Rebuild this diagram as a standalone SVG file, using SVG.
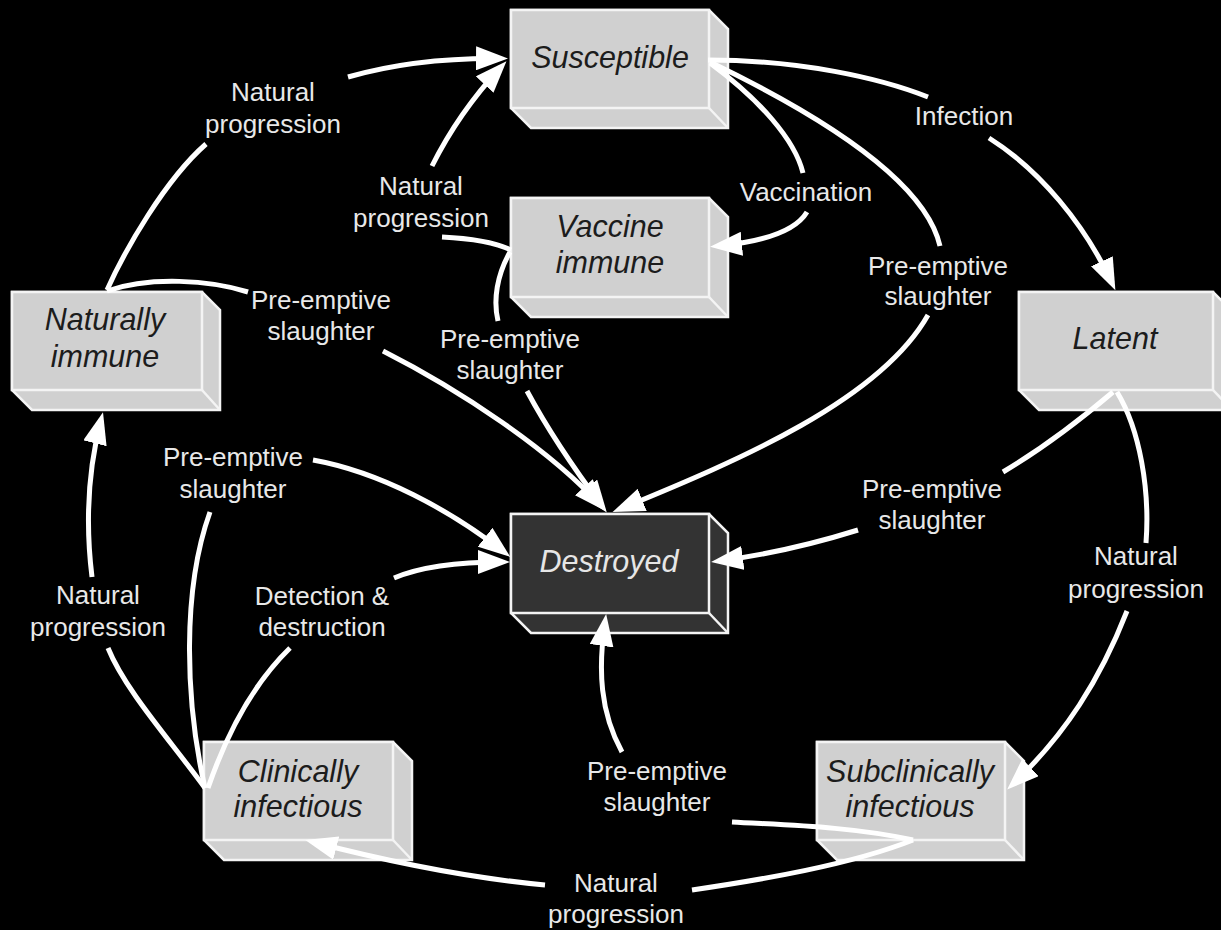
<svg xmlns="http://www.w3.org/2000/svg" width="1221" height="930" viewBox="0 0 1221 930">
<style>
.box{fill:#d0d0d0;stroke:#f4f4f4;stroke-width:2.5;stroke-linejoin:miter}
.dark{fill:#333333;stroke:#f4f4f4;stroke-width:2.5}
.edge{stroke:#f4f4f4;stroke-width:2.5}
.nt{font-family:"Liberation Sans",Arial,sans-serif;font-style:italic;font-size:30.5px;fill:#1c1c1c;text-anchor:middle}
.ntd{fill:#e6e6e6}
.lb{font-family:"Liberation Sans",Arial,sans-serif;font-size:26px;fill:#e8e8e8;text-anchor:middle}
.cn{fill:none;stroke:#ffffff;stroke-width:5;marker-end:url(#ah)}
</style>
<defs>
<marker id="ah" viewBox="0 0 32 24" markerWidth="32" markerHeight="24" refX="24" refY="12" orient="auto" markerUnits="userSpaceOnUse">
<path d="M0,0 L32,12 L0,24 Z" fill="#ffffff"/>
</marker>
</defs>
<rect x="0" y="0" width="1221" height="930" fill="#000000"/>

<g id="susceptible">
<path class="box" d="M511,10 L709,10 L728,29 L728,128 L531,128 L511,108 Z"/>
<rect class="box" x="511" y="10" width="198" height="98"/>
<line class="edge" x1="709" y1="108" x2="728" y2="128"/>
<text class="nt" x="610" y="68">Susceptible</text>
</g>

<g id="vaccine-immune">
<path class="box" d="M511,198 L709,198 L728,217 L728,317 L531,317 L511,297 Z"/>
<rect class="box" x="511" y="198" width="198" height="99"/>
<line class="edge" x1="709" y1="297" x2="728" y2="317"/>
<text class="nt" x="610" y="237">Vaccine</text>
<text class="nt" x="610" y="273">immune</text>
</g>

<g id="naturally-immune">
<path class="box" d="M12,292 L202,292 L220,310 L220,410 L32,410 L12,390 Z"/>
<rect class="box" x="12" y="292" width="190" height="98"/>
<line class="edge" x1="202" y1="390" x2="220" y2="410"/>
<text class="nt" x="105" y="330">Naturally</text>
<text class="nt" x="105" y="367">immune</text>
</g>

<g id="latent">
<path class="box" d="M1019,292 L1213,292 L1232,311 L1232,410 L1039,410 L1019,390 Z"/>
<rect class="box" x="1019" y="292" width="194" height="98"/>
<line class="edge" x1="1213" y1="390" x2="1232" y2="410"/>
<text class="nt" x="1115" y="349">Latent</text>
</g>

<g id="destroyed">
<path class="dark" d="M511,514 L709,514 L728,533 L728,633 L531,633 L511,613 Z"/>
<rect class="dark" x="511" y="514" width="198" height="99"/>
<line class="edge" x1="709" y1="613" x2="728" y2="633"/>
<text class="nt ntd" x="609" y="572">Destroyed</text>
</g>

<g id="clinically-infectious">
<path class="box" d="M204,742 L393,742 L412,761 L412,860 L224,860 L204,840 Z"/>
<rect class="box" x="204" y="742" width="189" height="98"/>
<line class="edge" x1="393" y1="840" x2="412" y2="860"/>
<text class="nt" x="298" y="782">Clinically</text>
<text class="nt" x="298" y="817">infectious</text>
</g>

<g id="subclinically-infectious">
<path class="box" d="M817,742 L1005,742 L1024,761 L1024,860 L837,860 L817,840 Z"/>
<rect class="box" x="817" y="742" width="188" height="98"/>
<line class="edge" x1="1005" y1="840" x2="1024" y2="860"/>
<text class="nt" x="910" y="782">Subclinically</text>
<text class="nt" x="910" y="817">infectious</text>
</g>

<g id="connectors">
<!-- Naturally immune -> Susceptible -->
<path class="cn" d="M107,290 C125,250 165,180 206,144 M348,77 C400,62 450,58 500,58.5"/>
<!-- Vaccine immune -> Susceptible -->
<path class="cn" d="M511,250 C490,240 462,238 442,237 M432,166 C450,130 475,95 501,67"/>
<!-- Susceptible -> Latent (Infection) -->
<path class="cn" d="M708,60 C800,60 880,78 928,97 M989,138 C1040,170 1085,225 1112,283"/>
<!-- Susceptible -> Vaccine immune -->
<path class="cn" d="M710,63 C760,100 795,140 803,173 M807,212 C795,232 760,242 718,246"/>
<!-- Susceptible -> Destroyed -->
<path class="cn" d="M710,62 C820,115 925,180 940,246 M928,315 C880,400 740,460 620,509"/>
<!-- Vaccine immune -> Destroyed -->
<path class="cn" d="M510,252 C497,275 493,300 498,321 M527,391 C548,430 575,470 602,506"/>
<!-- Naturally immune -> Destroyed -->
<path class="cn" d="M107,291 C150,276 210,280 248,292 M383,351 C460,390 550,450 600,505"/>
<!-- Clinically infectious -> Naturally immune -->
<path class="cn" d="M205,788 C170,740 125,690 108,648 M92,577 C85,520 88,470 101,420"/>
<!-- Clinically infectious -> Destroyed (pre-emptive) -->
<path class="cn" d="M205,788 C185,700 182,590 210,512 M313,460 C380,472 450,510 504,552"/>
<!-- Clinically infectious -> Destroyed (detection) -->
<path class="cn" d="M208,788 C228,730 255,682 290,648 M394,578 C420,567 460,562 502,562"/>
<!-- Latent -> Destroyed -->
<path class="cn" d="M1113,392 C1080,420 1040,450 1003,472 M858,530 C810,545 765,555 719,561"/>
<!-- Latent -> Subclinically -->
<path class="cn" d="M1117,392 C1140,430 1150,490 1146,543 M1127,611 C1100,680 1065,735 1013,784"/>
<!-- Subclinically -> Destroyed -->
<path class="cn" d="M913,840 C850,826 780,825 732,822 M622,752 C600,712 598,670 605,622"/>
<!-- Subclinically -> Clinically infectious -->
<path class="cn" d="M913,840 C850,865 760,880 692,890 M545,885 C470,878 390,862 313,842"/>
</g>

<g id="labels">
<text class="lb" x="273" y="101">Natural</text><text class="lb" x="273" y="133">progression</text>
<text class="lb" x="421" y="195">Natural</text><text class="lb" x="421" y="227">progression</text>
<text class="lb" x="964" y="125">Infection</text>
<text class="lb" x="806" y="201">Vaccination</text>
<text class="lb" x="938" y="275">Pre-emptive</text><text class="lb" x="938" y="305">slaughter</text>
<text class="lb" x="510" y="348">Pre-emptive</text><text class="lb" x="510" y="379">slaughter</text>
<text class="lb" x="321" y="309">Pre-emptive</text><text class="lb" x="321" y="340">slaughter</text>
<text class="lb" x="98" y="604">Natural</text><text class="lb" x="98" y="636">progression</text>
<text class="lb" x="233" y="466">Pre-emptive</text><text class="lb" x="233" y="498">slaughter</text>
<text class="lb" x="322" y="605">Detection &amp;</text><text class="lb" x="322" y="636">destruction</text>
<text class="lb" x="932" y="498">Pre-emptive</text><text class="lb" x="932" y="529">slaughter</text>
<text class="lb" x="1136" y="565">Natural</text><text class="lb" x="1136" y="598">progression</text>
<text class="lb" x="657" y="780">Pre-emptive</text><text class="lb" x="657" y="811">slaughter</text>
<text class="lb" x="616" y="892">Natural</text><text class="lb" x="616" y="923">progression</text>
</g>
</svg>
